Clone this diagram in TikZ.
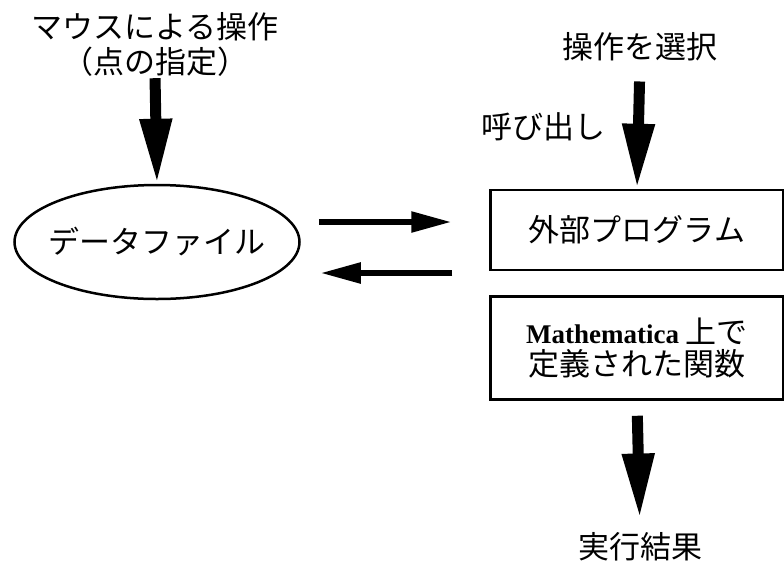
\documentclass[tikz,border=0pt]{standalone}
\usepackage{fontspec}
\newfontfamily\jp{Noto Sans CJK JP}
\newfontfamily\tm{Liberation Serif}
\usetikzlibrary{arrows.meta,shapes.geometric}
\begin{document}
\begin{tikzpicture}[x=1pt,y=-1pt,
  lbl/.style={font=\jp\fontsize{31}{35}\selectfont, align=center, inner sep=0pt},
  boxnode/.style={draw, line width=2.5pt, minimum width=293pt, inner sep=0pt, lbl},
  varrow/.style={line width=11pt, -{Triangle[length=65pt,width=30pt]}},
  harrow/.style={line width=5.5pt, -{Triangle[length=40pt,width=20pt]}}]
\useasboundingbox (0,0) rectangle (784,563);
\node[lbl] (mouse) at (155,44) {マウスによる操作\\（点の指定）};
\node[draw, ellipse, line width=2.5pt, minimum width=285pt, minimum height=114pt, lbl] (ell) at (157,242) {\makebox[150pt][c]{データファイル}};
\node[lbl] (choose) at (640,47) {操作を選択};
\node[lbl] (call) at (543,127) {呼び出し};
\node[boxnode, minimum height=80pt] (b1) at (637,230) {外部プログラム};
\node[boxnode, minimum height=103pt, align=center] (b2) at (637,348) {{\tm\bfseries\fontsize{27}{34}\selectfont Mathematica} 上で\\[-3pt]定義された関数};
\node[lbl] (res) at (640,547) {実行結果};
\draw[varrow, shorten <=2pt] (mouse.south) -- (ell.north);
\draw[varrow, shorten <=20pt] (choose.south) -- (b1.north);
\draw[varrow, shorten <=15pt, shorten >=14pt] (b2.south) -- (res.north);
\draw[harrow, shorten <=18pt, shorten >=38pt] ([yshift=20pt]ell.east) -- ([yshift=20pt]ell.east -| b1.west);
\draw[harrow, shorten <=37pt, shorten >=20pt] ([yshift=-31pt]ell.east -| b1.west) -- ([yshift=-31pt]ell.east);
\end{tikzpicture}
\end{document}
